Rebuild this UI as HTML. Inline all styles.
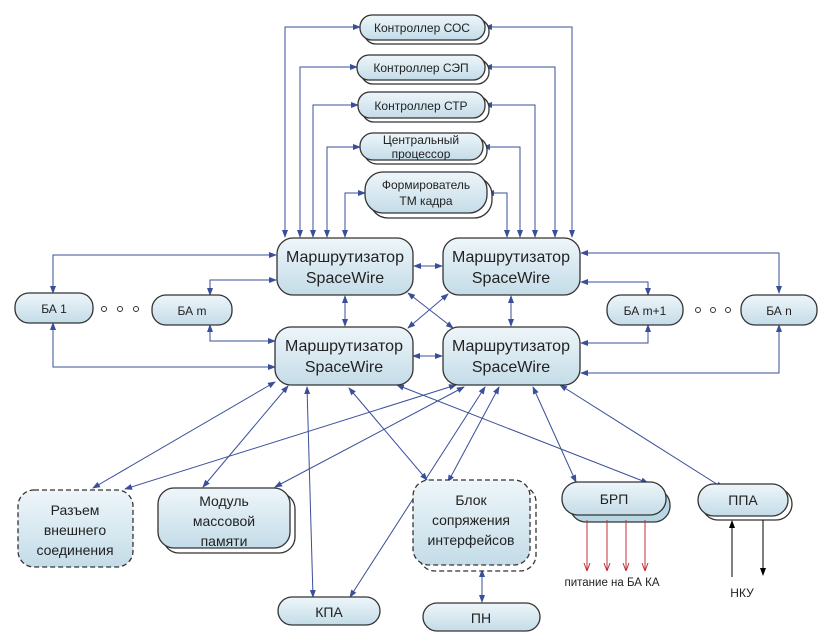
<!DOCTYPE html>
<html><head><meta charset="utf-8"><style>
body{margin:0;background:#fff}
svg{display:block}
text{font-family:"Liberation Sans","DejaVu Sans",sans-serif;fill:#222;text-anchor:middle}
</style></head><body>
<svg width="833" height="644" viewBox="0 0 833 644" xmlns="http://www.w3.org/2000/svg">
<defs>
<linearGradient id="g" x1="0" y1="0" x2="0" y2="1"><stop offset="0" stop-color="#eef6fa"/><stop offset="1" stop-color="#c4dce8"/></linearGradient>
<marker id="a" markerWidth="8" markerHeight="8" refX="7" refY="4" orient="auto-start-reverse" markerUnits="userSpaceOnUse"><path d="M0,1 L8,4 L0,7 z" fill="#3a4f9a"/></marker>
<marker id="r" markerWidth="8" markerHeight="8" refX="7" refY="4" orient="auto" markerUnits="userSpaceOnUse"><path d="M0,1 L8,4 L0,7" fill="none" stroke="#c0303a"/></marker>
<marker id="k" markerWidth="8" markerHeight="8" refX="7" refY="4" orient="auto" markerUnits="userSpaceOnUse"><path d="M0,1 L8,4 L0,7 z" fill="#000"/></marker>
</defs>
<g stroke="#3a4f9a" stroke-width="1" fill="none" marker-start="url(#a)" marker-end="url(#a)">
<polyline points="360,27 285,27 285,237"/>
<polyline points="485,27 572,27 572,237"/>
<polyline points="357,67 300,67 300,237"/>
<polyline points="485,67 555,67 555,237"/>
<polyline points="358,105 313,105 313,237"/>
<polyline points="485,105 535,105 535,237"/>
<polyline points="360,147 327,147 327,237"/>
<polyline points="483,147 520,147 520,237"/>
<polyline points="365,193 345,193 345,237"/>
<polyline points="487,193 507,193 507,237"/>
<line x1="414" y1="266" x2="442" y2="266"/>
<line x1="413" y1="356" x2="442" y2="356"/>
<line x1="345" y1="296" x2="345" y2="326"/>
<line x1="511" y1="296" x2="511" y2="326"/>
<line x1="408" y1="293" x2="453" y2="328"/>
<line x1="448" y1="294" x2="408" y2="328"/>
<polyline points="276,255 53,255 53,293"/>
<polyline points="53,323 53,367 275,367"/>
<polyline points="276,280 210,280 210,295"/>
<polyline points="210,325 210,341 275,341"/>
<polyline points="581,253 779,253 779,293"/>
<polyline points="581,282 648,282 648,295"/>
<polyline points="648,325 648,343 581,343"/>
<polyline points="779,325 779,373 581,373"/>
<line x1="275" y1="382" x2="93" y2="488"/>
<line x1="288" y1="386" x2="203" y2="487"/>
<line x1="307" y1="387" x2="313" y2="597"/>
<line x1="349" y1="388" x2="427" y2="480"/>
<line x1="397" y1="385" x2="648" y2="483"/>
<line x1="456" y1="385" x2="125" y2="489"/>
<line x1="464" y1="387" x2="275" y2="487"/>
<line x1="485" y1="387" x2="350" y2="597"/>
<line x1="499" y1="387" x2="448" y2="482"/>
<line x1="533" y1="387" x2="576" y2="482"/>
<line x1="560" y1="385" x2="723" y2="488"/>
<line x1="482" y1="570" x2="482" y2="602"/>
</g>
<g stroke="#333" stroke-width="1.3" fill="url(#g)">
<rect x="364" y="19" width="125" height="25" rx="12" fill="#fff"/><rect x="360" y="15" width="125" height="25" rx="12"/>
<rect x="361" y="59" width="128" height="25" rx="12" fill="#fff"/><rect x="357" y="55" width="128" height="25" rx="12"/>
<rect x="362" y="96" width="127" height="26" rx="12" fill="#fff"/><rect x="358" y="92" width="127" height="26" rx="12"/>
<rect x="364" y="137" width="123" height="27" rx="13" fill="#fff"/><rect x="360" y="133" width="123" height="27" rx="13"/>
<rect x="370" y="177" width="122" height="41" rx="18" fill="#fff"/><rect x="365" y="172" width="122" height="41" rx="18"/>
<rect x="277" y="238" width="136" height="57" rx="16"/>
<rect x="443" y="238" width="137" height="57" rx="16"/>
<rect x="275" y="327" width="138" height="58" rx="16"/>
<rect x="443" y="327" width="137" height="58" rx="16"/>
<rect x="15" y="293" width="78" height="30" rx="14"/>
<rect x="152" y="295" width="80" height="30" rx="14"/>
<rect x="607" y="295" width="76" height="30" rx="14"/>
<rect x="741" y="295" width="76" height="30" rx="14"/>
<rect x="18" y="490" width="115" height="77" rx="16" stroke-dasharray="5,3"/>
<rect x="163" y="493" width="132" height="60" rx="16" fill="#fff"/><rect x="158" y="488" width="132" height="60" rx="16"/>
<rect x="419" y="486" width="117" height="85" rx="16" fill="#fff" stroke-dasharray="5,3"/><rect x="413" y="480" width="117" height="85" rx="16" stroke-dasharray="5,3"/>
<rect x="570" y="489" width="100" height="33" rx="16" fill="#b9d6e4"/><rect x="562" y="482" width="104" height="33" rx="16"/>
<rect x="702" y="488" width="90" height="32" rx="16" fill="#fff"/><rect x="698" y="484" width="90" height="32" rx="16"/>
<rect x="278" y="597" width="102" height="28" rx="14"/>
<rect x="423" y="603" width="117" height="28" rx="14"/>
</g>
<g stroke="#c0303a" marker-end="url(#r)">
<line x1="587" y1="520" x2="587" y2="570"/><line x1="607" y1="520" x2="607" y2="570"/>
<line x1="626" y1="520" x2="626" y2="570"/><line x1="645" y1="520" x2="645" y2="570"/>
</g>
<g stroke="#000" marker-end="url(#k)">
<line x1="732" y1="577" x2="732" y2="521"/><line x1="763" y1="520" x2="763" y2="575"/>
</g>
<g fill="none" stroke="#333"><circle cx="104" cy="309" r="2.5"/><circle cx="120" cy="309" r="2.5"/><circle cx="136" cy="309" r="2.5"/>
<circle cx="698" cy="310" r="2.5"/><circle cx="713" cy="310" r="2.5"/><circle cx="728" cy="310" r="2.5"/></g>
<g font-size="12">
<text x="422" y="32">Контроллер СОС</text>
<text x="421" y="72">Контроллер СЭП</text>
<text x="421" y="110">Контроллер СТР</text>
<text x="421" y="144">Центральный</text><text x="421" y="158">процессор</text>
<text x="426" y="189">Формирователь</text><text x="426" y="205">ТМ кадра</text>
<text x="54" y="313">БА  1</text><text x="192" y="315">БА  m</text>
<text x="645" y="315">БА  m+1</text><text x="779" y="315">БА  n</text>
<text x="612" y="586" font-size="11.5">питание на БА КА</text>
<text x="742" y="597">НКУ</text>
</g>
<g font-size="16">
<text x="345" y="262">Маршрутизатор</text><text x="345" y="283">SpaceWire</text>
<text x="511" y="262">Маршрутизатор</text><text x="511" y="283">SpaceWire</text>
<text x="344" y="351">Маршрутизатор</text><text x="344" y="372">SpaceWire</text>
<text x="511" y="351">Маршрутизатор</text><text x="511" y="372">SpaceWire</text>
</g>
<g font-size="14">
<text x="75" y="515">Разъем</text><text x="75" y="535">внешнего</text><text x="75" y="555">соединения</text>
<text x="224" y="506">Модуль</text><text x="224" y="526">массовой</text><text x="224" y="546">памяти</text>
<text x="471" y="505">Блок</text><text x="471" y="525">сопряжения</text><text x="471" y="545">интерфейсов</text>
<text x="614" y="504">БРП</text><text x="743" y="505">ППА</text>
<text x="329" y="617">КПА</text><text x="481" y="623">ПН</text>
</g>
</svg>
</body></html>
